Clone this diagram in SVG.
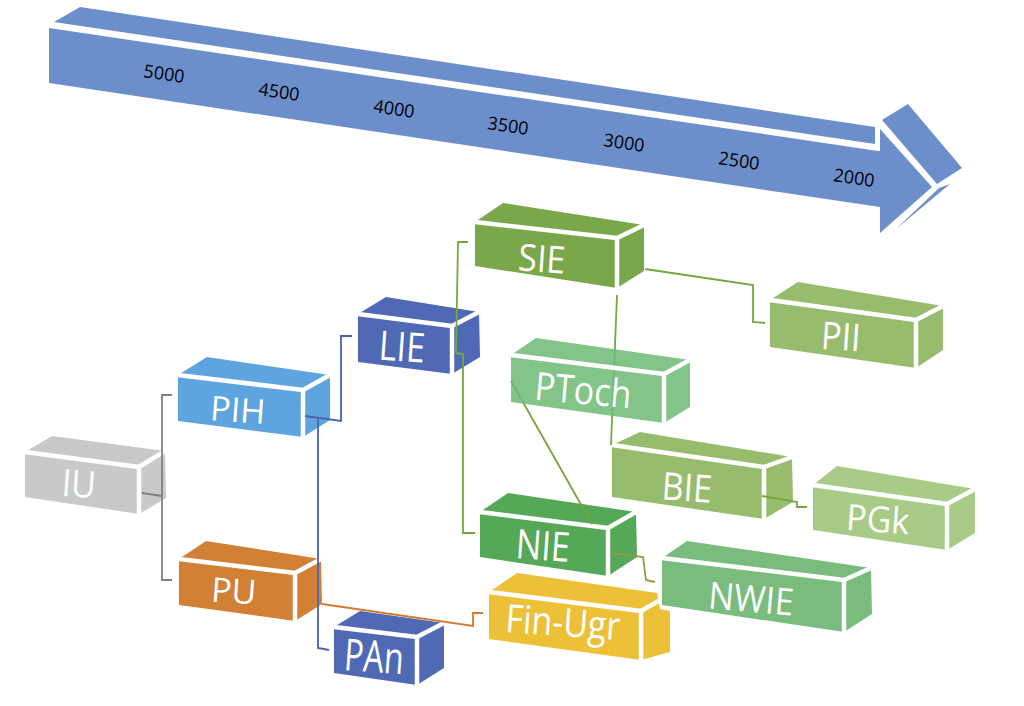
<svg xmlns="http://www.w3.org/2000/svg" width="1024" height="706" viewBox="0 0 1024 706">
<style>
.gap{fill:none;stroke:#fff;stroke-width:4.5;stroke-linejoin:miter}
.lbl{font-family:"Open Sans","Liberation Sans",sans-serif;font-size:34px;fill:#fff;text-anchor:middle}
.yr{font-family:"Open Sans","Liberation Sans",sans-serif;font-size:18px;fill:#000;text-anchor:middle}
.arrow{fill:#6c8fcb}
.con{fill:none;stroke-width:1.8}
</style>
<rect width="1024" height="706" fill="#fff"/>
<g id="timeline">
<polygon class="arrow" points="54,22 80,7 875,127 875,144"/>
<polygon class="arrow" points="49,28 878,151 880,151 880,129 932,187 880,233 880,207 49,83"/>
<polygon class="arrow" points="882,120 908,104 962,168 937,184"/>
<polygon class="arrow" points="896,229 950,184 939,188"/>
<g class="yr">
<text transform="translate(164,74) rotate(8.4)" y="6">5000</text>
<text transform="translate(279,92) rotate(8.4)" y="6">4500</text>
<text transform="translate(394,109) rotate(8.4)" y="6">4000</text>
<text transform="translate(508,126) rotate(8.4)" y="6">3500</text>
<text transform="translate(624,143) rotate(8.4)" y="6">3000</text>
<text transform="translate(739,161) rotate(8.4)" y="6">2500</text>
<text transform="translate(854,178) rotate(8.4)" y="6">2000</text>
</g>
</g>
<g id="node-IU">
<polygon fill="#c9c9c9" points="25,497 25,452 52,436 165,451 166,498 139,514"/>
<path class="gap" d="M25,452 L139,467 L139,514 M139,467 L165,451"/>
<text class="lbl" transform="translate(78,497) rotate(4) scale(1,1.1)">IU</text>
</g>
<g id="node-PIH">
<polygon fill="#5ea5e0" points="178,421 178,375 207,357 330,375 330,420 303,437"/>
<path class="gap" d="M178,375 L303,390 L303,437 M303,390 L330,375"/>
<text class="lbl" transform="translate(237,422) rotate(4)">PIH</text>
</g>
<g id="node-PU">
<polygon fill="#d18035" points="179,605 179,559 206,541 321,559 322,604 295,621"/>
<path class="gap" d="M179,559 L295,573 L295,621 M295,573 L321,559"/>
<text class="lbl" transform="translate(233,603) rotate(4)">PU</text>
</g>
<g id="node-LIE">
<polygon fill="#5069b5" points="358,362 358,314 386,297 479,312 480,357 452,374"/>
<path class="gap" d="M358,314 L452,326 L452,374 M452,326 L479,312"/>
<text class="lbl" transform="translate(401,361) rotate(4) scale(1,1.2)">LIE</text>
</g>
<g id="node-PAn">
<polygon fill="#5069b5" points="334,673 334,627 360,611 444,623 444,668 417,685"/>
<path class="gap" d="M334,627 L417,637 L417,685 M417,637 L444,623"/>
<text class="lbl" transform="translate(373,672) rotate(4) scale(0.95,1.3)">PAn</text>
</g>
<g id="node-SIE">
<polygon fill="#7ba74b" points="475,266 475,222 503,203 644,225 644,271 617,288"/>
<path class="gap" d="M475,222 L617,238 L617,288 M617,238 L644,225"/>
<text class="lbl" transform="translate(541,272) rotate(4) scale(1,1.1)">SIE</text>
</g>
<g id="node-NIE">
<polygon fill="#54a857" points="480,557 480,512 508,493 636,512 637,557 608,576"/>
<path class="gap" d="M480,512 L608,528 L608,576 M608,528 L636,512"/>
<text class="lbl" transform="translate(542,560) rotate(4) scale(1,1.2)">NIE</text>
</g>
<g id="node-BIE">
<polygon fill="#98bc6e" points="612,497 612,445 640,432 792,457 793,502 764,519"/>
<path class="gap" d="M612,445 L764,467 L764,519 M764,467 L792,457"/>
<text class="lbl" transform="translate(686,501) rotate(4) scale(1,1.12)">BIE</text>
</g>
<g id="node-PII">
<polygon fill="#98bc6e" points="770,347 770,300 798,282 943,306 943,350 916,368"/>
<path class="gap" d="M770,300 L916,320 L916,368 M916,320 L943,306"/>
<text class="lbl" transform="translate(840,350) rotate(4) scale(1,1.12)">PII</text>
</g>
<g id="node-PGk">
<polygon fill="#a8cb88" points="813,530 813,485 837,466 975,489 975,533 947,550"/>
<path class="gap" d="M813,485 L947,504 L947,550 M947,504 L975,489"/>
<text class="lbl" transform="translate(877,532) rotate(4) scale(1,1.06)">PGk</text>
</g>
<g id="node-FinUgr">
<polygon fill="#ecc137" points="489,639 489,592 517,573 657,593 660,609 670,611 670,652 641,660"/>
<path class="gap" d="M489,592 L641,611 L641,660 M641,611 L662,599"/>
<text class="lbl" transform="translate(562,636) rotate(4) scale(1,1.15)">Fin-Ugr</text>
</g>
<g id="connectors">
<path class="con" stroke="#808080" d="M172,395 L162,395 L162,580 L172,580 M142,493 L162,496"/>
<path class="con" stroke="#4a62b3" d="M305,416 L341,421 L341,336 L352,336"/>
<path class="con" stroke="#4a62b3" d="M318,417 L318,648 L329,650"/>
<path class="con" stroke="#d4782f" d="M322,604 L473,626 L473,613 L483,613"/>
<path class="con" stroke="#75a640" d="M456,353 L458,242 L468,242"/>
<path class="con" stroke="#75a640" d="M456,353 L463,354 L463,533 L475,533"/>
<path class="con" stroke="#75a640" d="M645,269 L753,285 L753,322 L765,323"/>
<path class="con" stroke="#75a640" d="M617,295 L611,445"/>
<path class="con" stroke="#7aa23c" d="M511,381 L592,524"/>
<path class="con" stroke="#75a640" d="M762,496 L797,502 L797,507 L807,507"/>
<path class="con" stroke="#8d9b43" d="M612,553 L643,557 L646,580 L655,582"/>
</g>
<g id="node-PToch">
<polygon fill="#6dba74" fill-opacity="0.85" points="511,402 511,355 536,338 690,360 690,407 664,423"/>
<path class="gap" d="M511,355 L664,374 L664,423 M664,374 L690,360"/>
<text class="lbl" transform="translate(582,404) rotate(5) scale(1,1.15)">PToch</text>
</g>
<g id="node-NWIE">
<polygon fill="#66b36c" fill-opacity="0.88" points="662,605 662,558 687,541 871,568 872,614 844,632"/>
<path class="gap" d="M662,558 L844,580 L844,632 M844,580 L871,568"/>
<text class="lbl" transform="translate(750,612) rotate(5) scale(1,1.1)">NWIE</text>
</g>
</svg>
